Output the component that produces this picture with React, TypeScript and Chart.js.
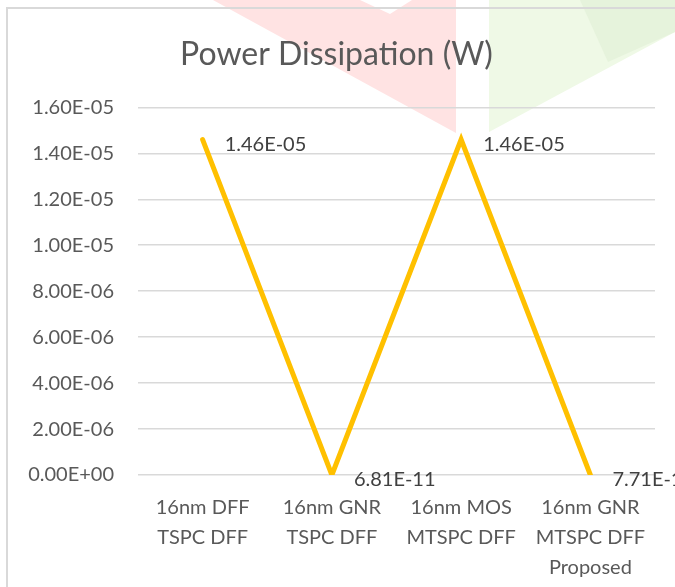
import React, { useEffect, useRef } from "react";
import { Chart, registerables } from "chart.js";

Chart.register(...registerables);

const categories: string[][] = [
  ["16nm DFF", "TSPC DFF"],
  ["16nm GNR", "TSPC DFF"],
  ["16nm MOS", "MTSPC DFF"],
  ["16nm GNR", "MTSPC DFF", "Proposed"],
];
const powerValues: number[] = [1.46e-5, 6.81e-11, 1.46e-5, 7.71e-11];
const yMin = 0;
const yMax = 1.6e-5;
const yStep = 2e-6;
const titleText = "Power Dissipation (W)";

const FONT = "Lato, 'Open Sans', sans-serif";
const TEXT = "#595959";

function fmtExp(v: number): string {
  if (v === 0) return "0.00E+00";
  const s = v.toExponential(2);
  const [m, e] = s.split("e");
  const n = parseInt(e, 10);
  const sign = n < 0 ? "-" : "+";
  const a = Math.abs(n);
  return `${m}E${sign}${a < 10 ? "0" + a : a}`;
}

const backgroundPlugin = {
  id: "bgDecor",
  beforeDraw(chart: any) {
    const ctx = chart.ctx;
    const w = chart.width;
    ctx.save();
    ctx.fillStyle = "#ffffff";
    ctx.fillRect(0, 0, w, chart.height);
    ctx.fillStyle = "#FFE3E3";
    ctx.beginPath();
    ctx.moveTo(213, 0);
    ctx.lineTo(456, 0);
    ctx.lineTo(456, 133);
    ctx.closePath();
    ctx.fill();
    ctx.fillStyle = "#ffffff";
    ctx.beginPath();
    ctx.moveTo(360, 0);
    ctx.lineTo(412, 0);
    ctx.lineTo(390, 14);
    ctx.closePath();
    ctx.fill();
    ctx.fillStyle = "#EFF9E6";
    ctx.beginPath();
    ctx.moveTo(489, 0);
    ctx.lineTo(w, 0);
    ctx.lineTo(w, 32);
    ctx.lineTo(489, 132);
    ctx.closePath();
    ctx.fill();
    ctx.fillStyle = "#E6F3DC";
    ctx.beginPath();
    ctx.moveTo(580, 0);
    ctx.lineTo(w, 0);
    ctx.lineTo(w, 32);
    ctx.lineTo(608, 62);
    ctx.closePath();
    ctx.fill();
    ctx.strokeStyle = "#D9D9D9";
    ctx.lineWidth = 2;
    ctx.beginPath();
    ctx.moveTo(7, chart.height + 2);
    ctx.lineTo(7, 8);
    ctx.lineTo(w + 2, 8);
    ctx.stroke();
    ctx.restore();
  },
};

const labelPlugin = {
  id: "pointLabels",
  afterDatasetsDraw(chart: any) {
    const ctx = chart.ctx;
    const meta = chart.getDatasetMeta(0);
    const data = chart.data.datasets[0].data as number[];
    ctx.save();
    ctx.font = `20px ${FONT}`;
    ctx.fillStyle = "#404040";
    ctx.textAlign = "left";
    ctx.textBaseline = "middle";
    meta.data.forEach((pt: any, i: number) => {
      ctx.fillText(fmtExp(data[i]), pt.x + 22, pt.y + 5);
    });
    ctx.restore();
  },
};

export default function App() {
  const ref = useRef<HTMLCanvasElement | null>(null);
  useEffect(() => {
    if (!ref.current) return;
    const chart = new Chart(ref.current, {
      type: "line",
      data: {
        labels: categories,
        datasets: [
          {
            data: powerValues,
            borderColor: "#FFC000",
            borderWidth: 5,
            borderCapStyle: "round",
            borderJoinStyle: "miter",
            pointRadius: 0,
            pointHoverRadius: 0,
            tension: 0,
            fill: false,
          },
        ],
      },
      options: {
        animation: false,
        responsive: false,
        maintainAspectRatio: false,
        layout: { padding: { top: 8, left: 18, right: 20, bottom: 0 } },
        plugins: {
          legend: { display: false },
          tooltip: { enabled: false },
          title: {
            display: true,
            text: titleText,
            color: TEXT,
            font: { family: FONT, size: 32, weight: "normal", lineHeight: 1.2 },
            padding: { top: 27, bottom: 34 },
          },
        },
        scales: {
          x: {
            offset: true,
            grid: { display: false, drawTicks: false },
            border: { display: false },
            ticks: {
              color: TEXT,
              font: { family: FONT, size: 20, lineHeight: 1.5 },
              padding: 18,
              maxRotation: 0,
              autoSkip: false,
            },
            afterFit: (s: any) => {
              s.height = 112;
            },
          },
          y: {
            min: yMin,
            max: yMax,
            grid: { color: "#D9D9D9", lineWidth: 1.5, drawTicks: false },
            border: { display: false },
            ticks: {
              stepSize: yStep,
              color: TEXT,
              font: { family: FONT, size: 20 },
              padding: 24,
              callback: (v: any) => fmtExp(Number(v)),
            },
            afterFit: (s: any) => {
              s.width = 120;
            },
          },
        },
      },
      plugins: [backgroundPlugin, labelPlugin],
    });
    return () => chart.destroy();
  }, []);
  return (
    <div style={{ position: "absolute", left: 0, top: 0, width: 675, height: 587 }}>
      <canvas ref={ref} width={675} height={587} style={{ display: "block" }} />
    </div>
  );
}
